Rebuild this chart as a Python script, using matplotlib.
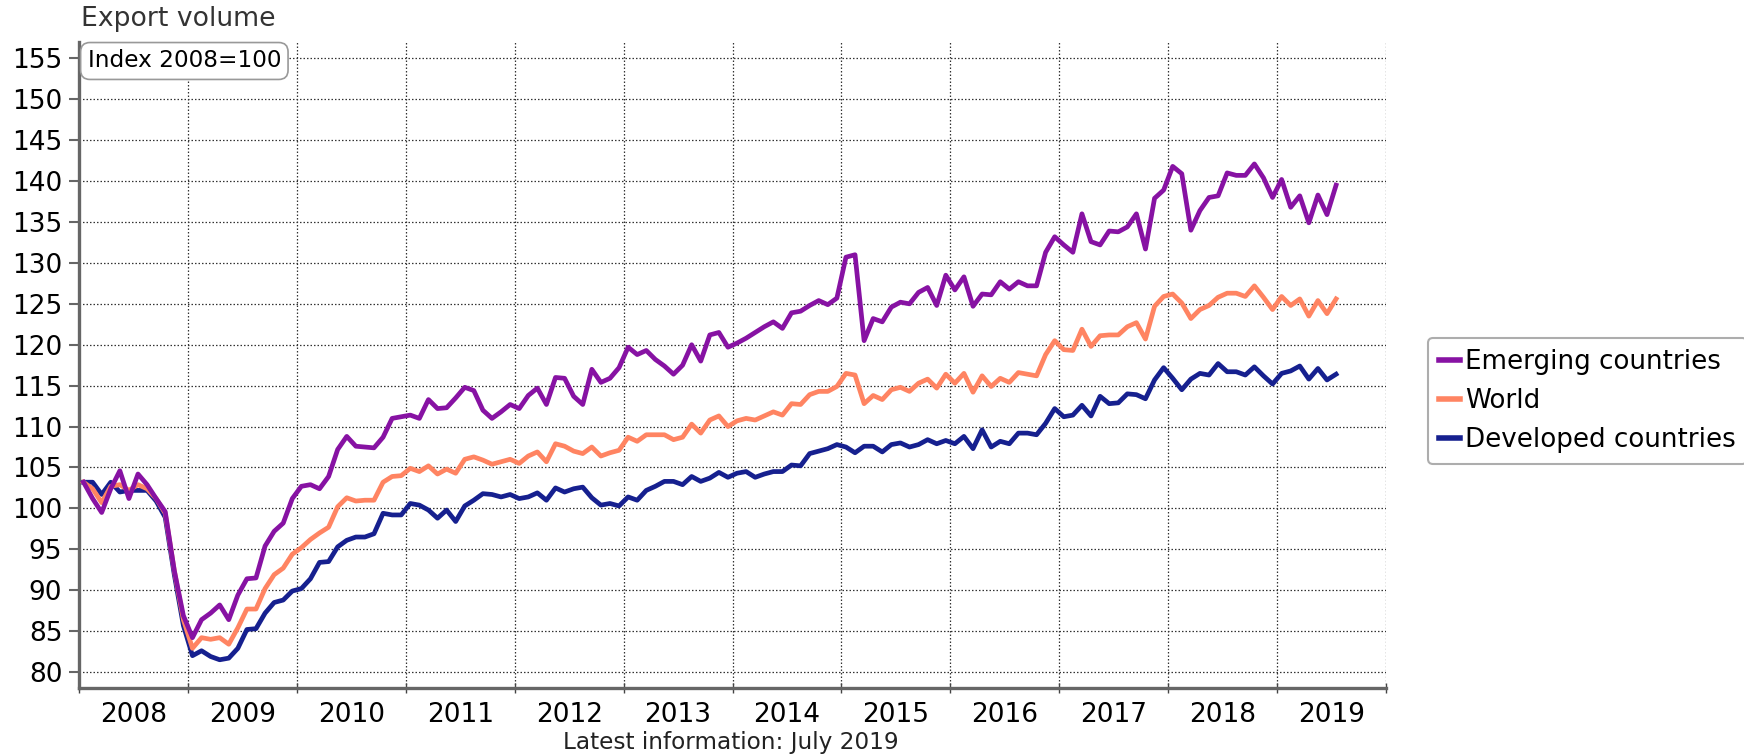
import numpy as np
import matplotlib
matplotlib.use("Agg")
import matplotlib.pyplot as plt
from matplotlib.ticker import FixedLocator, NullFormatter

# monthly export volume index, Jan 2008 - Jul 2019 (2008 = 100)
emerging = [
    103.2, 101.2, 99.5, 102.4, 104.6, 101.2, 104.2, 102.9, 101.2, 99.6, 92.4, 86.9,
    84.2, 86.4, 87.2, 88.2, 86.4, 89.4, 91.4, 91.5, 95.4, 97.2, 98.2, 101.2,
    102.7, 102.9, 102.4, 103.9, 107.2, 108.8, 107.6, 107.5, 107.4, 108.7, 111.0, 111.2,
    111.4, 111.0, 113.3, 112.2, 112.3, 113.5, 114.8, 114.4, 112.0, 111.0, 111.8, 112.7,
    112.2, 113.8, 114.7, 112.7, 116.0, 115.9, 113.7, 112.7, 117.0, 115.4, 115.9, 117.2,
    119.7, 118.8, 119.3, 118.2, 117.4, 116.4, 117.5, 120.0, 118.0, 121.2, 121.5, 119.7,
    120.2, 120.8, 121.5, 122.2, 122.8, 122.0, 123.9, 124.1, 124.8, 125.4, 124.9, 125.7,
    130.7, 131.0, 120.5, 123.2, 122.8, 124.6, 125.2, 125.0, 126.4, 127.0, 124.8, 128.5,
    126.7, 128.3, 124.7, 126.2, 126.1, 127.7, 126.8, 127.7, 127.2, 127.2, 131.3, 133.2,
    132.2, 131.3, 136.0, 132.6, 132.2, 133.9, 133.8, 134.4, 136.0, 131.7, 137.9, 138.9,
    141.8, 140.9, 134.0, 136.4, 138.0, 138.2, 141.0, 140.7, 140.7, 142.1, 140.4, 138.0,
    140.2, 136.8, 138.2, 134.9, 138.3, 135.9, 139.5,
]
world = [
    103.2, 102.4, 100.7, 102.7, 102.9, 102.2, 102.9, 102.4, 101.2, 99.4, 92.4, 86.4,
    82.9, 84.2, 84.0, 84.2, 83.4, 85.4, 87.7, 87.7, 90.2, 91.9, 92.7, 94.4,
    95.2, 96.2, 97.0, 97.7, 100.2, 101.3, 100.9, 101.0, 101.0, 103.2, 103.9, 104.0,
    104.9, 104.5, 105.2, 104.2, 104.8, 104.3, 106.0, 106.3, 105.9, 105.4, 105.7, 106.0,
    105.5, 106.4, 106.9, 105.7, 107.9, 107.6, 107.0, 106.7, 107.5, 106.4, 106.8, 107.1,
    108.7, 108.2, 109.0, 109.0, 109.0, 108.4, 108.7, 110.3, 109.2, 110.8, 111.3, 110.0,
    110.7, 111.0, 110.8, 111.3, 111.8, 111.4, 112.8, 112.7, 113.9, 114.3, 114.3, 114.9,
    116.5, 116.3, 112.8, 113.8, 113.3, 114.5, 114.8, 114.3, 115.3, 115.8, 114.7, 116.4,
    115.3, 116.5, 114.2, 116.2, 114.9, 115.9, 115.4, 116.6, 116.4, 116.2, 118.8, 120.5,
    119.4, 119.3, 121.9, 119.8, 121.1, 121.2, 121.2, 122.2, 122.7, 120.7, 124.7, 125.9,
    126.2, 125.1, 123.2, 124.3, 124.8, 125.8, 126.3, 126.3, 125.9, 127.2, 125.8, 124.3,
    125.9, 124.8, 125.6, 123.5, 125.4, 123.8, 125.6,
]
developed = [
    103.2, 103.2, 101.7, 103.2, 102.0, 102.2, 102.2, 102.2, 100.9, 98.9, 91.9, 85.7,
    82.0, 82.6, 81.9, 81.5, 81.7, 82.9, 85.2, 85.3, 87.2, 88.5, 88.8, 89.9,
    90.2, 91.4, 93.4, 93.5, 95.3, 96.1, 96.5, 96.5, 96.9, 99.4, 99.2, 99.2,
    100.6, 100.4, 99.8, 98.8, 99.8, 98.4, 100.3, 101.0, 101.8, 101.7, 101.4, 101.7,
    101.2, 101.4, 101.9, 101.0, 102.5, 102.0, 102.4, 102.6, 101.3, 100.4, 100.6, 100.3,
    101.4, 101.0, 102.2, 102.7, 103.3, 103.3, 102.9, 103.9, 103.3, 103.7, 104.4, 103.8,
    104.3, 104.5, 103.8, 104.2, 104.5, 104.5, 105.3, 105.2, 106.7, 107.0, 107.3, 107.8,
    107.5, 106.8, 107.6, 107.6, 106.9, 107.8, 108.0, 107.5, 107.8, 108.4, 107.9, 108.3,
    107.9, 108.8, 107.3, 109.6, 107.5, 108.2, 107.9, 109.2, 109.2, 109.0, 110.4, 112.2,
    111.2, 111.4, 112.6, 111.3, 113.7, 112.8, 112.9, 114.0, 113.9, 113.4, 115.7, 117.2,
    115.9, 114.5, 115.8, 116.5, 116.3, 117.7, 116.7, 116.7, 116.3, 117.3, 116.2, 115.2,
    116.5, 116.8, 117.4, 115.8, 117.1, 115.7, 116.4,
]
years = list(range(2008, 2020))
yticks = list(range(80, 160, 5))

# month points sit in the middle of each month
months = 2008 + (np.arange(len(world)) + 0.5) / 12

plt.rcParams['font.family'] = ['DejaVu Sans']

fig = plt.figure(figsize=(17.44, 7.56), dpi=100)
ax = fig.add_axes([79 / 1744, (756 - 688) / 756, (1386 - 79) / 1744, (688 - 42) / 756])

c_em, c_wo, c_de = '#8712a3', '#ff8462', '#16208f'
l_de, = ax.plot(months, developed, color=c_de, lw=3.4, zorder=3)
l_wo, = ax.plot(months, world, color=c_wo, lw=3.4, zorder=4)
l_em, = ax.plot(months, emerging, color=c_em, lw=3.4, zorder=5)

ax.set_xlim(2008, 2020)
ax.set_ylim(78.05, 157)

ax.set_yticks(yticks)
ax.xaxis.set_major_locator(FixedLocator(list(range(2008, 2021))))
ax.xaxis.set_major_formatter(NullFormatter())
ax.xaxis.set_minor_locator(FixedLocator([y + 0.5 for y in years]))
ax.set_xticklabels([str(y) for y in years], minor=True)

ax.tick_params(axis='y', direction='out', length=7, width=1.5, color='#666666',
               labelsize=19, pad=5)
ax.tick_params(axis='x', which='major', direction='inout', length=7, width=1,
               color='#444444')
ax.tick_params(axis='x', which='minor', length=0, labelsize=19, pad=10)

ax.grid(True, which='major', color='#333333', lw=0.9, linestyle=(0, (1.2, 1.6)))
for s in ['top', 'right']:
    ax.spines[s].set_visible(False)
for s in ['left', 'bottom']:
    ax.spines[s].set_color('#666666')
    ax.spines[s].set_linewidth(2.4)

ax.text(0.0806, 0.9706, 'Index 2008=100', transform=ax.transAxes, fontsize=16.7,
        ha='center', va='center',
        bbox=dict(boxstyle='round,pad=0.3,rounding_size=0.4', fc='white',
                  ec='#999999', lw=1.2), zorder=6)

fig.text(81 / 1744, 1 - 19 / 756, 'Export volume', fontsize=19.2, color='#333333',
         ha='left', va='center')
fig.text(731 / 1744, 1 - 743 / 756, 'Latest information: July 2019', fontsize=16.7,
         color='#222222', ha='center', va='center')

leg = fig.legend([l_em, l_wo, l_de], ['Emerging countries', 'World', 'Developed countries'],
                 loc='upper left', bbox_to_anchor=(1428 / 1744, 1 - 338 / 756),
                 fontsize=18.8, frameon=True, fancybox=True, handlelength=0.8,
                 handletextpad=0.2, labelspacing=0.5, borderpad=0.42,
                 borderaxespad=0)
leg.get_frame().set_edgecolor('#999999')
leg.get_frame().set_linewidth(1.5)
for h in leg.get_lines():
    h.set_linewidth(4)

fig.savefig('out.png', dpi=100)
